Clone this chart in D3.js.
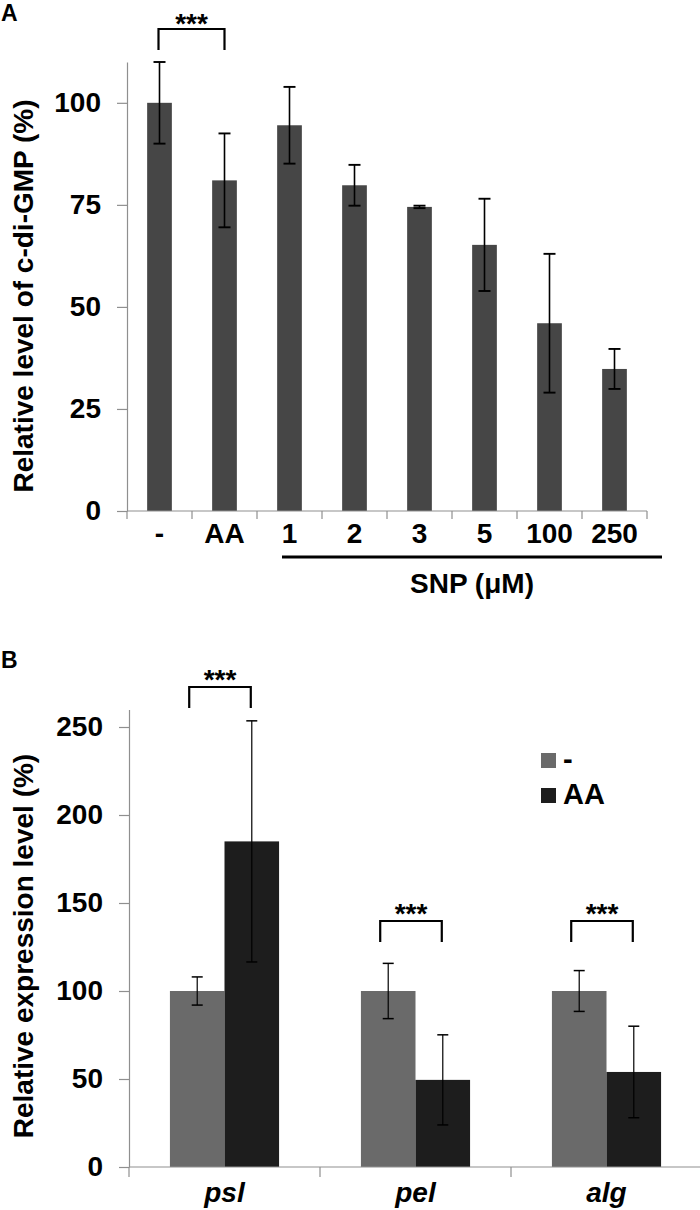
<!DOCTYPE html>
<html><head><meta charset="utf-8">
<script src="https://cdn.jsdelivr.net/npm/d3@7"></script>
<style>
body{margin:0;background:#fff;}
text{font-family:"Liberation Sans",Arial,sans-serif;font-weight:bold;}
</style></head>
<body><svg id="c" width="700" height="1210"></svg>
<script>
// Panel A data
const catsA = ["-", "AA", "1", "2", "3", "5", "100", "250"];
const valsA = [100, 81, 94.5, 79.8, 74.5, 65.2, 46, 34.8];
const errA  = [10, 11.5, 9.4, 5, 0.3, 11.3, 17, 4.9];
const ticksA = [0, 25, 50, 75, 100];
const snpCats = ["1", "2", "3", "5", "100", "250"];

// Panel B data
const genesB = ["psl", "pel", "alg"];
const seriesB = ["-", "AA"];
const ctrlB = [100, 100, 100];
const ctrlErrB = [8, 15.7, 11.6];
const aaB = [185, 49.5, 54];
const aaErrB = [68.5, 25.6, 26];
const ticksB = [0, 50, 100, 150, 200, 250];

const svg = d3.select("#c");
const axisCol = "#8f8f8f";
const FS = 28;

function styleYAxis(g){
  g.select(".domain").attr("stroke", axisCol).attr("stroke-width", 1.2);
  g.selectAll(".tick line").attr("stroke", axisCol).attr("stroke-width", 1.2);
  g.selectAll(".tick text").attr("font-size", FS).attr("fill", "#000")
    .attr("font-family", '"Liberation Sans",Arial,sans-serif').attr("font-weight", "bold");
}

function errBar(g, x, y0, y1, cap, w){
  g.append("line").attr("x1", x).attr("x2", x).attr("y1", y0).attr("y2", y1).attr("stroke", "#000").attr("stroke-width", w);
  g.append("line").attr("x1", x-cap/2).attr("x2", x+cap/2).attr("y1", y0).attr("y2", y0).attr("stroke", "#000").attr("stroke-width", w+0.3);
  g.append("line").attr("x1", x-cap/2).attr("x2", x+cap/2).attr("y1", y1).attr("y2", y1).attr("stroke", "#000").attr("stroke-width", w+0.3);
}

function bracket(g, x1, x2, yTop, yBot, starY){
  g.append("path").attr("d", `M${x1},${yBot}V${yTop}H${x2}V${yBot}`)
    .attr("fill", "none").attr("stroke", "#000").attr("stroke-width", 2.2);
  g.append("text").attr("x", (x1+x2)/2).attr("y", starY).attr("text-anchor", "middle")
    .attr("font-size", FS).text("***");
}

// ---------- Panel A ----------
const gA = svg.append("g");
const yA = d3.scaleLinear().domain([0, 110]).range([511, 62]);
const xA0 = d3.scaleBand().domain(catsA).range([127, 647]).padding(0);
const xA = d3.scaleBand().domain(catsA).range([127, 647]).paddingInner(0.62).paddingOuter(0.31);

gA.append("text").attr("x", 1).attr("y", 21).attr("font-size", 23).text("A");

const yAxA = gA.append("g").attr("transform", "translate(127,0)")
  .call(d3.axisLeft(yA).tickValues(ticksA).tickSize(10).tickSizeOuter(0).tickPadding(16));
styleYAxis(yAxA);

gA.selectAll("rect.bar").data(catsA).join("rect")
  .attr("x", d => xA(d)).attr("width", xA.bandwidth())
  .attr("y", (d,i) => yA(valsA[i])).attr("height", (d,i) => yA(0) - yA(valsA[i]))
  .attr("fill", "#464646");

catsA.forEach((c,i) => {
  errBar(gA, xA(c) + xA.bandwidth()/2, yA(valsA[i] + errA[i]), yA(valsA[i] - errA[i]), 12, 1.6);
});

// x axis A
gA.append("line").attr("x1", 127).attr("x2", 647).attr("y1", yA(0)).attr("y2", yA(0)).attr("stroke", axisCol).attr("stroke-width", 1.2);
const bndA = catsA.map(c => xA0(c)).concat([xA0.range()[1]]);
gA.selectAll("line.xt").data(bndA).join("line").attr("class", "xt")
  .attr("x1", d => d).attr("x2", d => d).attr("y1", yA(0)).attr("y2", yA(0) + 8)
  .attr("stroke", axisCol).attr("stroke-width", 1.2);
gA.selectAll("text.xl").data(catsA).join("text").attr("class", "xl")
  .attr("x", d => xA0(d) + xA0.bandwidth()/2).attr("y", 543)
  .attr("text-anchor", "middle").attr("font-size", FS).text(d => d);

// SNP line
const snpStart = xA0(snpCats[0]) + 25;
const snpEnd = xA0.range()[1] + 15;
gA.append("line").attr("x1", snpStart).attr("x2", snpEnd).attr("y1", 557).attr("y2", 557)
  .attr("stroke", "#000").attr("stroke-width", 3.2);
gA.append("text").attr("x", (snpStart + snpEnd)/2).attr("y", 593).attr("text-anchor", "middle")
  .attr("font-size", FS).text("SNP (\u03BCM)");

// y title A
gA.append("text").attr("transform", "translate(33,296) rotate(-90)").attr("text-anchor", "middle")
  .attr("font-size", 28).text("Relative level of c-di-GMP (%)");

// bracket A
bracket(gA, xA(catsA[0]) + xA.bandwidth()/2 - 1, xA(catsA[1]) + xA.bandwidth()/2, 29, 50, 33);

// ---------- Panel B ----------
const gB = svg.append("g");
const yB = d3.scaleLinear().domain([0, 260]).range([1167, 709.4]);
const xB = d3.scaleBand().domain(genesB).range([129, 702]).padding(0);
const xs = d3.scaleBand().domain(seriesB).range([0, xB.bandwidth()]).paddingInner(0).paddingOuter(0.75);
const colB = {"-": "#6a6a6a", "AA": "#1d1d1d"};

gB.append("text").attr("x", 1).attr("y", 668).attr("font-size", 23).text("B");

const yAxB = gB.append("g").attr("transform", "translate(129,0)")
  .call(d3.axisLeft(yB).tickValues(ticksB).tickSize(10).tickSizeOuter(0).tickPadding(16));
styleYAxis(yAxB);

const dataB = [];
genesB.forEach((g,i) => {
  dataB.push({g, s: "-", v: ctrlB[i], e: ctrlErrB[i]});
  dataB.push({g, s: "AA", v: aaB[i], e: aaErrB[i]});
});
gB.selectAll("rect.bar").data(dataB).join("rect")
  .attr("x", d => xB(d.g) + xs(d.s)).attr("width", xs.bandwidth())
  .attr("y", d => yB(d.v)).attr("height", d => yB(0) - yB(d.v))
  .attr("fill", d => colB[d.s]);
dataB.forEach(d => {
  errBar(gB, xB(d.g) + xs(d.s) + xs.bandwidth()/2, yB(d.v + d.e), yB(d.v - d.e), 11, 1.2);
});

// x axis B
gB.append("line").attr("x1", 129).attr("x2", 702).attr("y1", yB(0)).attr("y2", yB(0)).attr("stroke", axisCol).attr("stroke-width", 1.2);
const bndB = genesB.map(g => xB(g)).concat([xB.range()[1]]);
gB.selectAll("line.xt").data(bndB).join("line").attr("class", "xt")
  .attr("x1", d => d).attr("x2", d => d).attr("y1", yB(0)).attr("y2", yB(0) + 10)
  .attr("stroke", axisCol).attr("stroke-width", 1.2);
gB.selectAll("text.xl").data(genesB).join("text").attr("class", "xl")
  .attr("x", d => xB(d) + xB.bandwidth()/2).attr("y", 1202)
  .attr("text-anchor", "middle").attr("font-size", FS).attr("font-style", "italic").text(d => d);

// y title B
gB.append("text").attr("transform", "translate(33,946) rotate(-90)").attr("text-anchor", "middle")
  .attr("font-size", 28).text("Relative expression level (%)");

// brackets B
const bTops = [687, 921, 921];
genesB.forEach((g,i) => {
  const cx1 = xB(g) + xs("-") + xs.bandwidth()/2 - 8;
  const cx2 = xB(g) + xs("AA") + xs.bandwidth()/2 - 1;
  bracket(gB, cx1, cx2, bTops[i], bTops[i] + 21, bTops[i] + 2);
});

// legend B
const lg = gB.append("g");
seriesB.forEach((s,i) => {
  const yy = 753 + i*35;
  lg.append("rect").attr("x", 541).attr("y", yy).attr("width", 15).attr("height", 15).attr("fill", colB[s]);
  lg.append("text").attr("x", 563).attr("y", yy + 16).attr("font-size", 29).text(s);
});
</script></body></html>
